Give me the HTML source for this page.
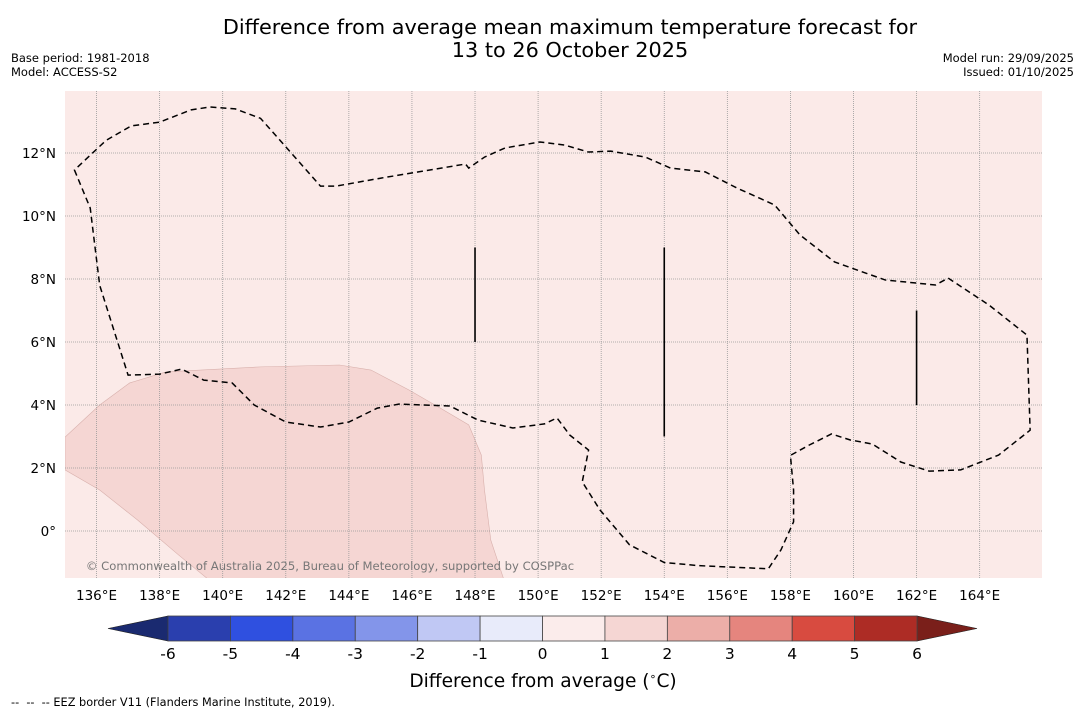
<!DOCTYPE html>
<html><head><meta charset="utf-8">
<style>
body{margin:0;background:#fff;font-family:"DejaVu Sans","Liberation Sans",sans-serif;}
svg text{font-family:"DejaVu Sans","Liberation Sans",sans-serif;}
</style></head>
<body>
<svg id="chart" width="1085" height="713" viewBox="0 0 1085 713" xmlns="http://www.w3.org/2000/svg">
<text x="570" y="34" font-size="20.8" text-anchor="middle" fill="#000">Difference from average mean maximum temperature forecast for</text>
<text x="570" y="57" font-size="20.8" text-anchor="middle" fill="#000">13 to 26 October 2025</text>
<text x="11" y="62" font-size="11.5">Base period: 1981-2018</text>
<text x="11" y="76" font-size="11.5">Model: ACCESS-S2</text>
<text x="1074" y="62" font-size="11.5" text-anchor="end">Model run: 29/09/2025</text>
<text x="1074" y="76" font-size="11.5" text-anchor="end">Issued: 01/10/2025</text>
<defs><clipPath id="mapclip"><rect x="65" y="91" width="977" height="487"/></clipPath></defs>
<rect x="65" y="91" width="977" height="487" fill="#fbeae8"/>
<g id="shade" clip-path="url(#mapclip)"></g>
<g id="grid"></g>
<g id="marks" clip-path="url(#mapclip)"></g>
<text x="330" y="570" font-size="11.6" text-anchor="middle" fill="#777">© Commonwealth of Australia 2025, Bureau of Meteorology, supported by COSPPac</text>
<g id="xticks"></g>
<g id="cbar"></g>
<text x="543" y="687" font-size="18.6" text-anchor="middle">Difference from average (<tspan font-size="11" dy="-7">∘</tspan><tspan dy="7">C)</tspan></text>
<text x="11" y="706" font-size="11.3" xml:space="preserve">--  --  -- EEZ border V11 (Flanders Marine Institute, 2019).</text>
</svg>
<script>
const lonTicks=[136,138,140,142,144,146,148,150,152,154,156,158,160,162,164];
const latTicks=[0,2,4,6,8,10,12];
const latLabels=["0°","2°N","4°N","6°N","8°N","10°N","12°N"];
const eezLon=[135.3,135.8,136.1,137.0,138.0,138.7,139.4,140.3,141.0,142.0,143.1,144.0,144.9,145.6,147.2,148.1,149.2,150.2,150.6,151.0,151.6,151.4,151.96,152.9,154.0,155.1,157.3,157.7,158.1,158.1,158.0,158.6,159.3,159.9,160.6,161.5,162.4,163.4,164.6,165.6,165.5,164.3,163.0,162.6,161.0,159.4,158.3,157.5,156.3,155.3,154.2,153.4,152.3,151.6,150.85,150.06,148.95,148.3,147.8,147.7,145.0,143.6,143.1,141.2,140.4,139.6,139.0,138.0,137.1,136.3];
const eezLat=[11.46,10.25,7.8,4.95,4.98,5.14,4.79,4.7,4.0,3.46,3.3,3.46,3.9,4.03,3.97,3.52,3.27,3.4,3.59,3.05,2.57,1.56,0.67,-0.44,-1.0,-1.1,-1.2,-0.6,0.29,1.3,2.4,2.73,3.08,2.89,2.76,2.19,1.9,1.94,2.41,3.2,6.22,7.17,8.03,7.81,7.97,8.54,9.4,10.35,10.89,11.4,11.52,11.87,12.06,12.03,12.25,12.35,12.16,11.87,11.52,11.65,11.2,10.95,10.95,13.1,13.4,13.46,13.37,12.98,12.86,12.4];
const shadeLon=[135,136.1,137.05,138.2,139.3,141.2,143.7,144.7,145.9,146.9,147.8,148.2,148.3,148.5,148.9,139.5,138.6,137.3,136.1,135];
const shadeLat=[2.98,4.0,4.7,5.05,5.11,5.21,5.27,5.11,4.48,3.9,3.37,2.41,1.3,-0.29,-1.5,-1.5,-0.76,0.35,1.3,1.94];
const lineLon=[148,154,162];
const lineLat0=[6,3,4];
const lineLat1=[9,9,7];
const cbLevels=[-6,-5,-4,-3,-2,-1,0,1,2,3,4,5,6];
const cbColors=["#2a3fae","#2f50e0","#5a72e3","#8395ea","#c0c8f4","#e8ebfa","#fbeceb","#f5d6d3","#ecaea8","#e5857e","#d84b40","#ad2c25"];
const NS="http://www.w3.org/2000/svg";
const X=lon=>65+(lon-135)*31.54;
const Y=lat=>531-lat*31.5;
const CX=v=>168+(v+6)*62.42;
function mk(tag,attrs,parent){const e=document.createElementNS(NS,tag);for(const k in attrs)e.setAttribute(k,attrs[k]);document.getElementById(parent).appendChild(e);return e;}
let p=mk('polygon',{points:shadeLon.map((l,i)=>X(l)+','+Y(shadeLat[i])).join(' '),fill:'#f5d6d3',stroke:'#d8b0ac','stroke-width':0.6},'shade');


lonTicks.forEach(l=>{const g=mk('line',{x1:X(l),x2:X(l),y1:91,y2:578,stroke:'#999','stroke-width':0.8,'stroke-dasharray':'1,1'},'grid');


const t=mk('text',{x:X(l),y:600,'font-size':13.5,'text-anchor':'middle'},'xticks');t.textContent=l+'°E';

});
latTicks.forEach((l,i)=>{const g=mk('line',{x1:65,x2:1042,y1:Y(l),y2:Y(l),stroke:'#999','stroke-width':0.8,'stroke-dasharray':'1,1'},'grid');


const t=mk('text',{x:56,y:Y(l)+5,'font-size':13.5,'text-anchor':'end'},'grid');t.textContent=latLabels[i];

});
let e=mk('polygon',{points:eezLon.map((l,i)=>X(l)+','+Y(eezLat[i])).join(' '),fill:'none',stroke:'#000','stroke-width':1.5,'stroke-dasharray':'6,4'},'marks');


lineLon.forEach((l,i)=>{const s=mk('line',{x1:X(l),x2:X(l),y1:Y(lineLat0[i]),y2:Y(lineLat1[i]),stroke:'#000','stroke-width':1.6},'marks');

});
const t1=mk('polygon',{points:`108,628.5 ${CX(-6)},616 ${CX(-6)},641`,fill:'#1a2a70',stroke:'#222','stroke-width':0.6},'cbar');


const t2=mk('polygon',{points:`977,628.5 ${CX(6)},616 ${CX(6)},641`,fill:'#7a1f1a',stroke:'#222','stroke-width':0.6},'cbar');


cbColors.forEach((c,i)=>{const r=mk('rect',{x:CX(cbLevels[i]),y:616,width:CX(cbLevels[i+1])-CX(cbLevels[i]),height:25,fill:c,stroke:'#444','stroke-width':0.8},'cbar');

});
cbLevels.forEach(v=>{const t=mk('text',{x:CX(v),y:659,'font-size':15.5,'text-anchor':'middle'},'cbar');t.textContent=v;

});
</script>
</body></html>
